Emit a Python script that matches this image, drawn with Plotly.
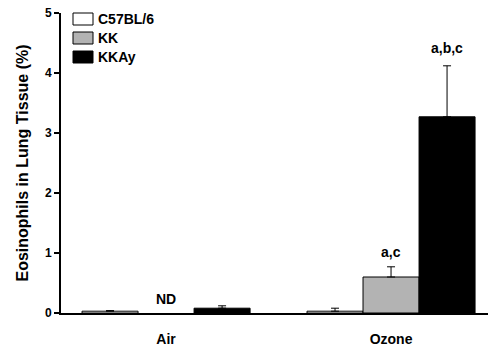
import plotly.graph_objects as go

groups = ["Air", "Ozone"]
strains = ["C57BL/6", "KK", "KKAy"]
means = {"C57BL/6": [0.03, 0.03], "KK": [None, 0.60], "KKAy": [0.08, 3.27]}
errs = {"C57BL/6": [0.01, 0.05], "KK": [0.0, 0.17], "KKAy": [0.04, 0.85]}
colors = {"C57BL/6": "#ffffff", "KK": "#b3b3b3", "KKAy": "#000000"}
y_ticks = [0, 1, 2, 3, 4, 5]
labels = [("ND", "Air", "KK", 0.23), ("a,c", "Ozone", "KK", 1.02), ("a,b,c", "Ozone", "KKAy", 4.42)]

FONT = "Liberation Sans, Arial, sans-serif"
L, R, T, B = 61, 0, 13, 41
W, H = 488, 354
PW, PH = W - L - R, H - T - B

fig = go.Figure()
for s in strains:
    fig.add_trace(go.Bar(
        name=s, x=groups, y=means[s], showlegend=False,
        marker=dict(color=colors[s], line=dict(color="black", width=1)),
        error_y=dict(type="data", array=errs[s], arrayminus=[0, 0], symmetric=False,
                     color="black", thickness=1, width=4),
    ))

offsets = {"C57BL/6": -1, "KK": 0, "KKAy": 1}
bw = (1 - 0.253) / 3
for text, g, s, yv in labels:
    fig.add_annotation(x=groups.index(g) + offsets[s] * bw, y=yv, xref="x", yref="y",
                       text=text, showarrow=False,
                       font=dict(family=FONT, size=14, color="black", weight=700))

# manual legend (wide swatches like the reference)
def px_x(x):
    return (x - L) / PW

def px_y(y):
    return (H - B - y) / PH

for i, s in enumerate(strains):
    yc = 19 + 19 * i
    fig.add_shape(type="rect", xref="paper", yref="paper",
                  x0=px_x(73), x1=px_x(93), y0=px_y(yc - 6), y1=px_y(yc + 6),
                  fillcolor=colors[s], line=dict(color="black", width=1))
    fig.add_annotation(xref="paper", yref="paper", x=px_x(96), y=px_y(yc),
                       xanchor="left", yanchor="middle", text=s, showarrow=False,
                       font=dict(family=FONT, size=14, color="black", weight=700))

fig.update_layout(
    width=W, height=H,
    margin=dict(l=L, r=R, t=T, b=B),
    paper_bgcolor="white", plot_bgcolor="white",
    barmode="group", bargap=0.253, bargroupgap=0,
    font=dict(family=FONT, color="black"),
    showlegend=False,
    xaxis=dict(range=[-0.467, 1.431], showline=True, linecolor="black", linewidth=2,
               ticks="outside", ticklen=12, tickcolor="rgba(0,0,0,0)",
               showgrid=False, zeroline=False,
               tickfont=dict(family=FONT, size=14, color="black", weight=700)),
    yaxis=dict(range=[0, 5], tickvals=y_ticks, showline=True, linecolor="black", linewidth=2,
               ticks="outside", ticklen=5, tickwidth=2, tickcolor="black",
               showgrid=False, zeroline=False,
               tickfont=dict(family=FONT, size=12, color="black", weight=700),
               title=dict(text="Eosinophils in Lung Tissue (%)", standoff=12,
                          font=dict(family=FONT, size=16, color="black", weight=700))),
)
fig.write_html("out.html")
